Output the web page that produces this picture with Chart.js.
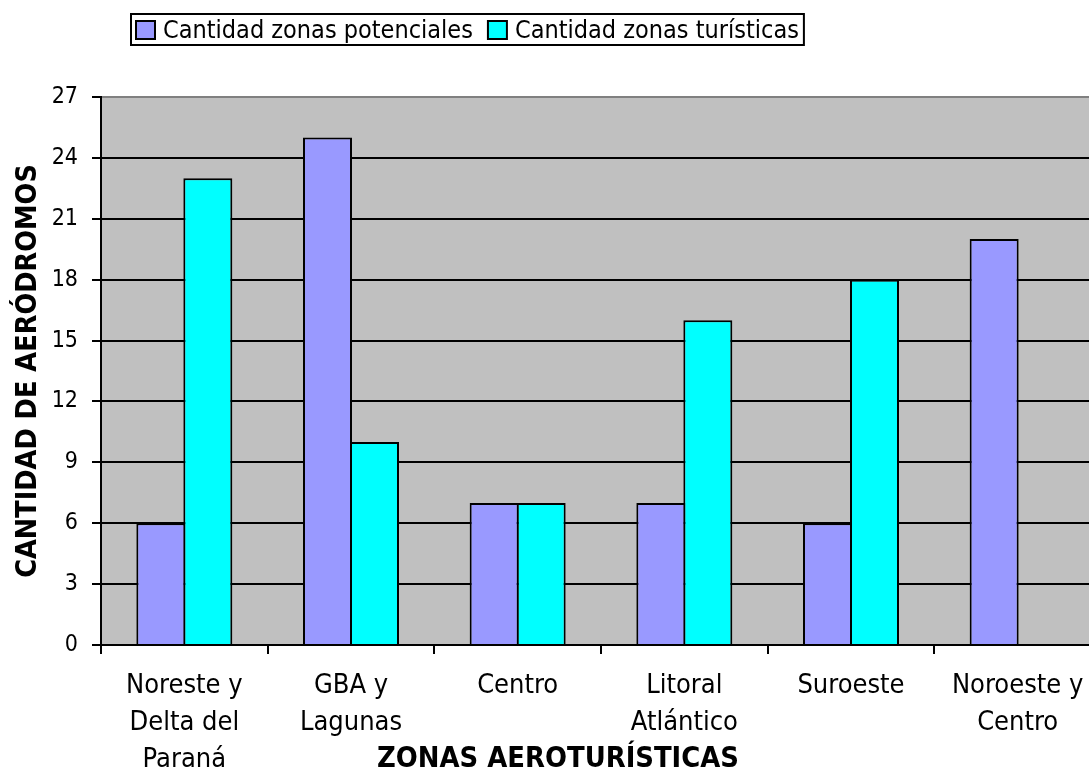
<!DOCTYPE html>
<html><head><meta charset="utf-8">
<script src="https://cdn.jsdelivr.net/npm/chart.js@4.4.1/dist/chart.umd.min.js"></script>
<style>html,body{margin:0;padding:0;overflow:hidden;background:#fff}canvas{display:block}</style>
</head><body>
<canvas id="c" width="1115" height="770" style="width:1115px;height:770px"></canvas>
<script>
const categories = [["Noreste y","Delta del","Paraná"],["GBA y","Lagunas"],["Centro"],["Litoral","Atlántico"],["Suroeste"],["Noroeste y","Centro"]];
const seriesNames = ["Cantidad zonas potenciales","Cantidad zonas turísticas"];
const potenciales = [6,25,7,7,6,20];
const turisticas = [23,10,7,16,18,0];
const yMin = 0, yMax = 27, yStep = 3;
const yTitle = "CANTIDAD DE AERÓDROMOS";
const xTitle = "ZONAS AEROTURÍSTICAS";
const colors = ["#9999FF","#00FFFF"];

const FONT = "'DejaVu Sans Condensed', sans-serif";

const bgPlugin = {
  id:'bg',
  beforeDraw(chart){
    const {ctx, chartArea:a} = chart;
    ctx.save(); ctx.fillStyle = '#C0C0C0';
    ctx.fillRect(a.left, a.top, a.right-a.left, a.bottom-a.top);
    ctx.restore();
  }
};
const legendPlugin = {
  id:'customLegend',
  afterDraw(chart){
    const ctx = chart.ctx;
    ctx.save();
    ctx.font = "25px " + FONT;
    ctx.textBaseline = 'middle';
    ctx.fillStyle = '#000';
    const top = 14, bottom = 45, cy = 30;
    let x = 136;
    const left = 131;
    chart.data.datasets.forEach((ds,i)=>{
      ctx.fillStyle = ds.backgroundColor;
      ctx.fillRect(x, cy-9, 19, 18);
      ctx.lineWidth = 2; ctx.strokeStyle = '#000';
      ctx.strokeRect(x, cy-9, 19, 18);
      ctx.fillStyle = '#000';
      ctx.fillText(ds.label, x+27, cy+1);
      x = x + 27 + ctx.measureText(ds.label).width + 15;
    });
    const right = x - 15 + 5;
    ctx.lineWidth = 2; ctx.strokeStyle = '#000';
    ctx.strokeRect(left, top, right-left, bottom-top);
    // x title
    ctx.font = "bold 28.8px " + FONT;
    ctx.textAlign = 'center';
    ctx.fillText(xTitle, 558, 760);
    ctx.restore();
  }
};

new Chart(document.getElementById('c'), {
  type:'bar',
  data:{
    labels: categories,
    datasets:[
      {label:seriesNames[0], data:potenciales, backgroundColor:colors[0], borderColor:'#000', borderWidth:{top:2,left:2,right:2,bottom:0}},
      {label:seriesNames[1], data:turisticas, backgroundColor:colors[1], borderColor:'#000', borderWidth:{top:2,left:2,right:2,bottom:0}}
    ]
  },
  options:{
    responsive:false, animation:false,
    layout:{padding:{top:97,right:14,bottom:0,left:0}},
    plugins:{legend:{display:false}, tooltip:{enabled:false}},
    datasets:{bar:{barPercentage:1.0426, categoryPercentage:0.564}},
    scales:{
      x:{
        grid:{display:true, drawOnChartArea:false, drawTicks:true, tickLength:9, color:'#000', lineWidth:2, offset:true},
        border:{display:true, color:'#000', width:2},
        ticks:{color:'#000', font:{family:FONT, size:27, lineHeight:37/27}, padding:13, maxRotation:0, autoSkip:false},
        afterFit(s){ s.height = 125; }
      },
      y:{
        min:yMin, max:yMax,
        ticks:{stepSize:yStep, color:'#000', font:{family:FONT, size:23}, padding:14},
        grid:{color:(c)=> (c.tick && c.tick.value===yMax) ? '#808080' : '#000', tickColor:'#000', lineWidth:2, tickLength:9},
        border:{display:true, color:'#000', width:2},
        title:{display:true, text:yTitle, color:'#000', font:{family:FONT, size:28.5, weight:'bold'}, padding:{top:11,bottom:0}},
        afterFit(s){ s.width = 101; }
      }
    }
  },
  plugins:[bgPlugin, legendPlugin]
});
</script>
</body></html>
